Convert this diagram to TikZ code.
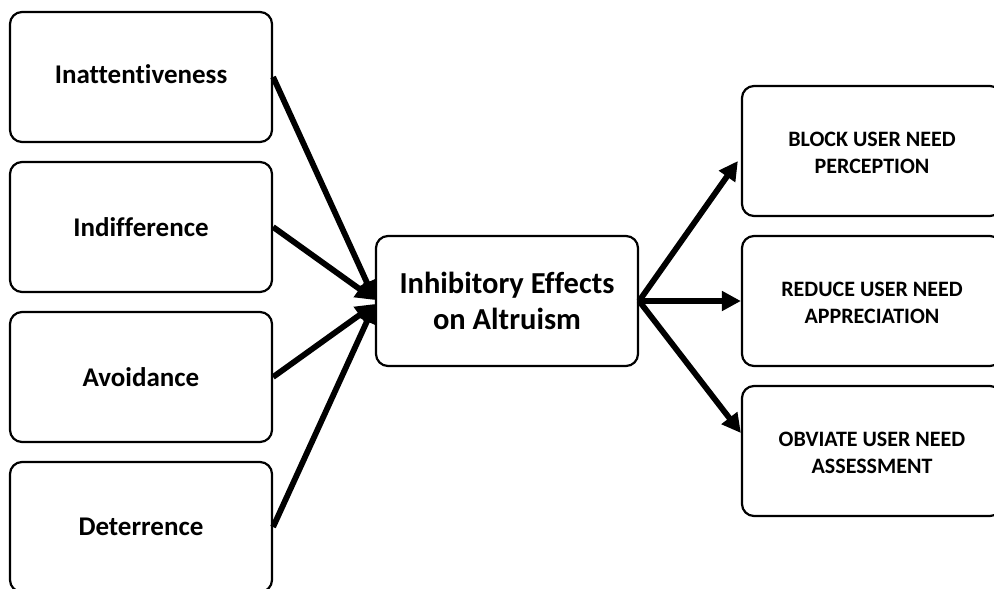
\documentclass[tikz,border=0pt]{standalone}
\usepackage{fontspec}
\setmainfont[Ligatures=NoCommon]{Carlito}
\usetikzlibrary{arrows.meta}
% shift text vertically while keeping its box size
\newcommand{\nudge}[2]{\raisebox{#1}[\height][\depth]{#2}}
% two centred lines, lowered a little inside their box
\newcommand{\twolines}[2]{\nudge{-4pt}{\begin{tabular}{@{}c@{}}#1\\#2\end{tabular}}}
\begin{document}
\begin{tikzpicture}[x=1pt,y=-1pt,
  box/.style={draw, line width=2.2pt, rounded corners=12pt, fill=white,
    minimum width=262pt, minimum height=130pt, inner sep=0pt, align=center,
    font=\bfseries},
  leftbox/.style={box, font=\fontsize{27}{31}\selectfont\bfseries},
  midbox/.style={box, font=\fontsize{30.5}{36}\selectfont\bfseries},
  rightbox/.style={box, minimum width=260pt,
    font=\fontsize{22}{27}\selectfont\bfseries},
  arr/.style={line width=5.8pt, -{Triangle[length=19pt,width=19pt]}}]
\useasboundingbox (0,0) rectangle (994,589);
\clip (0,0) rectangle (994,589);

% causes on the left
\node[leftbox] (in1) at (141,77)  {\nudge{3pt}{Inattentiveness}};
\node[leftbox] (in2) at (141,227) {Indifference};
\node[leftbox] (in3) at (141,377) {Avoidance};
\node[leftbox] (in4) at (141,527) {Deterrence};

% central effect
\node[midbox] (mid) at (507,301) {Inhibitory Effects\\on Altruism};

% consequences on the right
\node[rightbox] (out1) at (872,151) {\twolines{BLOCK USER NEED}{PERCEPTION}};
\node[rightbox] (out2) at (872,301) {\twolines{REDUCE USER NEED}{APPRECIATION}};
\node[rightbox] (out3) at (872,451) {\twolines{OBVIATE USER NEED}{ASSESSMENT}};

% connectors
\draw[arr] (in1.east) -- ([yshift=1pt]mid.west);
\draw[arr] (in2.east) -- ([yshift=1pt]mid.west);
\draw[arr] (in3.east) -- ([yshift=-3pt]mid.west);
\draw[arr] (in4.east) -- ([yshift=-3pt]mid.west);

\draw[arr] (mid.east) -- ([yshift=-10pt,xshift=-3pt]out1.west);
\draw[arr] (mid.east) -- (out2.west);
\draw[arr] (mid.east) -- ([yshift=18pt]out3.west);
\end{tikzpicture}
\end{document}
